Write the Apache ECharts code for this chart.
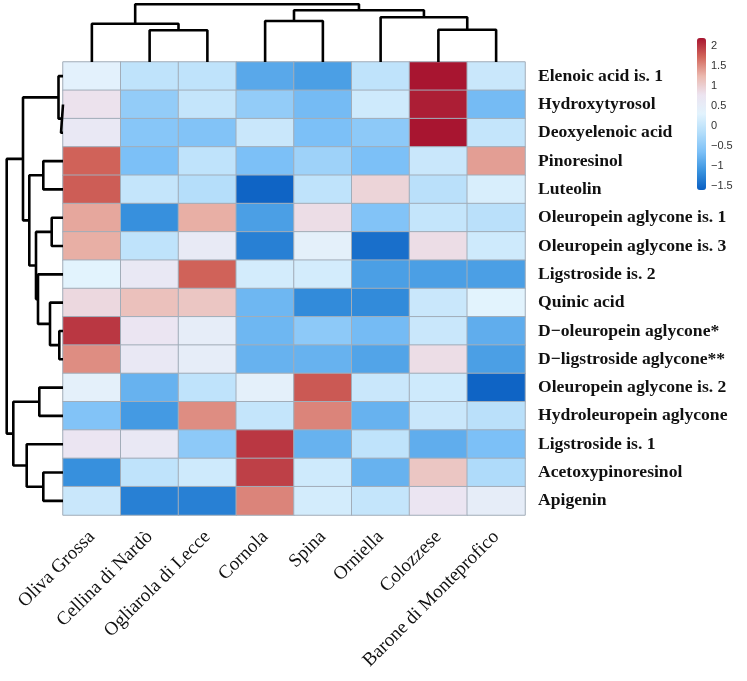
<!DOCTYPE html>
<html>
<head>
<meta charset="utf-8">
<script src="https://cdn.jsdelivr.net/npm/echarts@6/dist/echarts.min.js"></script>
<style>
html,body{margin:0;padding:0;background:#fff;}
#chart{width:747px;height:681px;}
</style>
</head>
<body>
<div id="chart"></div>
<script>
// ---- data ----
const cultivars = ['Oliva Grossa','Cellina di Nardò','Ogliarola di Lecce','Cornola','Spina','Orniella','Colozzese','Barone di Monteprofico'];
const compounds = ['Elenoic acid is. 1','Hydroxytyrosol','Deoxyelenoic acid','Pinoresinol','Luteolin',
  'Oleuropein aglycone is. 1','Oleuropein aglycone is. 3','Ligstroside is. 2','Quinic acid',
  'D\u2212oleuropein aglycone*','D\u2212ligstroside aglycone**','Oleuropein aglycone is. 2',
  'Hydroleuropein aglycone','Ligstroside is. 1','Acetoxypinoresinol','Apigenin'];
// z-scores, one row per compound, columns in cultivar order
const zScores = [
  [ 0.35, -0.05, -0.05, -0.90, -1.00, -0.05,  2.20,  0.05],
  [ 0.80, -0.45,  0.00, -0.45, -0.70,  0.10,  2.15, -0.70],
  [ 0.65, -0.55, -0.60,  0.05, -0.65, -0.50,  2.20,  0.00],
  [ 1.75, -0.65, -0.05, -0.65, -0.35, -0.65,  0.05,  1.40],
  [ 1.78,  0.00, -0.15, -1.55, -0.05,  0.95, -0.10,  0.20],
  [ 1.35, -1.15,  1.30, -1.00,  0.85, -0.60,  0.00, -0.10],
  [ 1.30, -0.05,  0.60, -1.30,  0.40, -1.45,  0.85,  0.10],
  [ 0.30,  0.65,  1.75,  0.15,  0.15, -1.00, -1.00, -1.00],
  [ 0.90,  1.15,  1.10, -0.75, -1.20, -1.20,  0.05,  0.30],
  [ 2.00,  0.75,  0.50, -0.75, -0.50, -0.70,  0.05, -0.85],
  [ 1.50,  0.65,  0.50, -0.80, -0.80, -0.95,  0.85, -1.00],
  [ 0.40, -0.80, -0.05,  0.40,  1.80,  0.05,  0.10, -1.55],
  [-0.60, -1.05,  1.50,  0.00,  1.55, -0.80,  0.05, -0.10],
  [ 0.75,  0.65, -0.50,  2.00, -0.80, -0.05, -0.85, -0.65],
  [-1.15, -0.05,  0.10,  1.95,  0.10, -0.80,  1.10, -0.20],
  [ 0.05, -1.30, -1.30,  1.55,  0.15,  0.00,  0.75,  0.50]
];
// hierarchical clustering merges (hclust style: negative = leaf in display order, positive = earlier merge)
const colMerges = [[-2,-3],[-7,-8],[-1,1],[-4,-5],[-6,2],[4,5],[3,6]];
const colHeights = [3.17, 3.23, 3.83, 4.10, 4.47, 5.17, 5.77];
const rowMerges = [[-2,-3],[-10,-11],[-1,1],[-6,-7],[-9,2],[-4,-5],[-15,-16],[-12,-13],[-8,5],[4,9],[6,10],[-14,7],[3,11],[8,12],[13,14]];
const rowHeights = [0.20, 0.37, 0.45, 1.13, 1.30, 1.97, 1.97, 2.37, 2.50, 2.70, 3.37, 3.63, 4.00, 4.97, 5.63];
const legendTicks = [-1.5, -1, -0.5, 0, 0.5, 1, 1.5, 2];
const zMin = -1.6, zMax = 2.2;

// ---- build ----
function dendroSegments(merges, heights, vertical) {
  const pos = [], hgt = [];
  const out = [];
  merges.forEach((m, i) => {
    const p = m.map(c => c < 0 ? (-c - 0.5) : pos[c - 1]);
    const hc = m.map(c => c < 0 ? 0 : hgt[c - 1]);
    const h = heights[i];
    let pts = [[p[0], hc[0]], [p[0], h], [p[1], h], [p[1], hc[1]]];
    if (!vertical) pts = pts.map(q => [q[1], q[0]]);
    out.push(pts);
    pos[i] = (p[0] + p[1]) / 2;
    hgt[i] = h;
  });
  return out;
}

const heatData = [];
zScores.forEach((row, r) => row.forEach((v, c) => heatData.push([c, r, v])));

const colSegs = dendroSegments(colMerges, colHeights, true);
const rowSegs = dendroSegments(rowMerges, rowHeights, false);

const lineStyle = {color: '#000', width: 2.6};
const series = [{
  type: 'heatmap', xAxisIndex: 0, yAxisIndex: 0, data: heatData,
  itemStyle: {borderColor: '#a2adb9', borderWidth: 1},
  emphasis: {disabled: true}
}];
colSegs.forEach(s => series.push({type: 'line', xAxisIndex: 1, yAxisIndex: 1, data: s, symbol: 'none', lineStyle, silent: true}));
rowSegs.forEach(s => series.push({type: 'line', xAxisIndex: 2, yAxisIndex: 2, data: s, symbol: 'none', lineStyle, silent: true}));
series.push({type: 'scatter', xAxisIndex: 3, yAxisIndex: 3, data: [], silent: true});

const hide = {show: false};
const option = {
  animation: false,
  grid: [
    {left: 63, top: 62, width: 462, height: 453},
    {left: 63, top: 0, width: 462, height: 62},
    {left: 0, top: 62, width: 63, height: 453},
    {left: 697, top: 38, width: 9, height: 152}
  ],
  xAxis: [
    {type: 'category', gridIndex: 0, data: cultivars, position: 'bottom',
     axisLine: hide, axisTick: hide, splitLine: hide,
     axisLabel: {rotate: 45, margin: 19, interval: 0, fontFamily: 'Liberation Serif', fontSize: 19, color: '#111'}},
    {type: 'value', gridIndex: 1, min: 0, max: 8, show: false},
    {type: 'value', gridIndex: 2, min: 0, max: 6.3, inverse: true, show: false},
    {type: 'value', gridIndex: 3, min: 0, max: 1, show: false}
  ],
  yAxis: [
    {type: 'category', gridIndex: 0, data: compounds, inverse: true, position: 'right',
     axisLine: hide, axisTick: hide, splitLine: hide,
     axisLabel: {margin: 13, interval: 0, fontFamily: 'Liberation Serif', fontWeight: 'bold', fontSize: 17.6, color: '#111'}},
    {type: 'value', gridIndex: 1, min: 0, max: 6.2, show: false},
    {type: 'value', gridIndex: 2, min: 0, max: 16, inverse: true, show: false},
    {type: 'value', gridIndex: 3, min: zMin, max: zMax, position: 'right',
     axisLine: hide, axisTick: hide, splitLine: hide,
     axisLabel: {customValues: legendTicks, margin: 5, fontFamily: 'Liberation Sans', fontSize: 11, color: '#333',
       formatter: v => String(v).replace('-', '\u2212')}}
  ],
  visualMap: {
    type: 'continuous', min: zMin, max: zMax, seriesIndex: 0,
    left: 697, top: 38, itemWidth: 9, itemHeight: 152, padding: 0,
    calculable: false, showLabel: false, text: null, hoverLink: false,
    inRange: {color: ['#0a5fc2','#3993df','#7cc0f7','#b2ddfa','#e2f3fd','#ece4f1','#ebb8ae','#d2665b','#a81530']}
  },
  series
};
const chart = echarts.init(document.getElementById('chart'));
chart.setOption(option);
</script>
</body>
</html>
